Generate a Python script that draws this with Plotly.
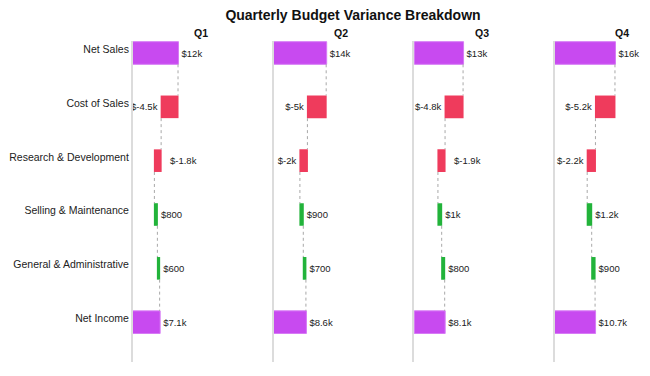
import plotly.graph_objects as go
from plotly.subplots import make_subplots

categories = ["Net Sales", "Cost of Sales", "Research & Development",
              "Selling & Maintenance", "General & Administrative", "Net Income"]
measures = ["absolute", "relative", "relative", "relative", "relative", "total"]
quarters = ["Q1", "Q2", "Q3", "Q4"]
q1 = [12000, -4500, -1800, 800, 600, 7100]
q2 = [14000, -5000, -2000, 900, 700, 8600]
q3 = [13000, -4800, -1900, 1000, 800, 8100]
q4 = [16000, -5200, -2200, 1200, 900, 10700]
series = [q1, q2, q3, q4]

FONT = "Arial, Liberation Sans, sans-serif"
TXT = 9.5
X_MAX = 36000
PX_PER_UNIT = 134.0 / X_MAX
fig = make_subplots(rows=1, cols=4, subplot_titles=[f"<b>{q}</b>" for q in quarters],
                    horizontal_spacing=0.01, shared_yaxes=True)


def fmt(v):
    a = abs(v)
    if a >= 1000:
        s = f"{a / 1000:.1f}".rstrip("0").rstrip(".") + "k"
    else:
        s = f"{a:g}"
    return "$" + ("-" if v < 0 else "") + s


for i, vals in enumerate(series):
    texts = [fmt(v) for v in vals]
    bar_texts = list(texts)
    running = 0
    for j, (m, v) in enumerate(zip(measures, vals)):
        if m == "absolute":
            running = v
        elif m == "relative":
            prev = running
            running += v
            # decreasing label that has no room on the left: shown to the right of the bar
            if v < 0 and running * PX_PER_UNIT < len(texts[j]) * 4.5:
                bar_texts[j] = ""
                fig.add_annotation(x=prev, y=categories[j], text=texts[j], showarrow=False,
                                   xanchor="left", xshift=7, yshift=-3.8,
                                   xref=f"x{i + 1 if i else ''}", yref=f"y{i + 1 if i else ''}",
                                   font=dict(family=FONT, size=TXT, color="#222"))
    fig.add_trace(go.Waterfall(
        orientation="h", y=categories, x=vals, measure=measures,
        text=bar_texts, textposition="outside", cliponaxis=False,
        textfont=dict(family=FONT, size=TXT, color="#222"),
        outsidetextfont=dict(family=FONT, size=TXT, color="#222"),
        connector=dict(line=dict(color="#a8a8a8", width=1, dash="dot")),
        increasing=dict(marker=dict(color="#22b33a")),
        decreasing=dict(marker=dict(color="#ef3b5c")),
        totals=dict(marker=dict(color="#c84af0", line=dict(color="#d67af5", width=1))),
        width=0.42, offset=-0.14, showlegend=False,
    ), row=1, col=i + 1)
    fig.update_xaxes(range=[0, X_MAX], showgrid=False, zeroline=False,
                     showticklabels=False, showline=False, row=1, col=i + 1)
    fig.update_yaxes(range=[5.81, -0.153], showgrid=False, zeroline=False,
                     showline=True, linecolor="#dcdcdc", linewidth=2,
                     ticks="", automargin=False, row=1, col=i + 1)

fig.update_yaxes(tickfont=dict(family=FONT, size=10.5, color="#222"), row=1, col=1)

for ann in fig.layout.annotations:
    if ann.text.startswith("<b>Q"):
        ann.font = dict(family=FONT, size=10.5, color="#111")

fig.update_layout(
    width=690, height=376,
    margin=dict(l=125, r=8, t=33, b=22),
    paper_bgcolor="white", plot_bgcolor="white",
    title=dict(text="<b>Quarterly Budget Variance Breakdown</b>", x=0.5, xanchor="center",
               y=1 - 7 / 376, yanchor="middle", yref="container",
               font=dict(family=FONT, size=14, color="#111")),
    font=dict(family=FONT),
)

fig.write_html("out.html")
